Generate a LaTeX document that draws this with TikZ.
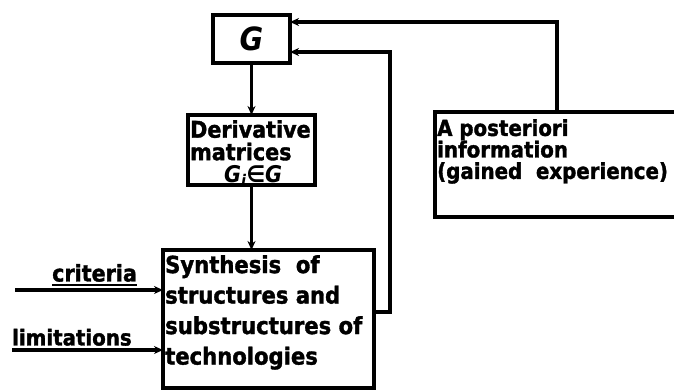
\documentclass[tikz,border=0pt]{standalone}
\usepackage{fontspec}
\setmainfont{DejaVu Sans Condensed}[BoldFeatures={FakeBold=1.5}]
\usetikzlibrary{arrows.meta,calc}
\begin{document}
\begin{tikzpicture}[x=1pt,y=-1pt,
  box/.style={draw, line width=3.2pt, inner sep=0pt, outer sep=0pt, anchor=north west},
  txt/.style={inner sep=0pt, anchor=north west, align=left, font=\bfseries},
  conn/.style={line width=3.2pt, -{Stealth[length=9pt,width=8pt]}}]
\useasboundingbox (0,0) rectangle (674,391);
% boxes
\node[box, minimum width=77pt, minimum height=48pt, anchor=center,
      font=\fontsize{32}{32}\selectfont\bfseries\itshape] (g) at (251.5,39) {G};
\node[box, minimum width=127pt, minimum height=70pt] (deriv) at (188,115) {};
\node[txt, font=\fontsize{23}{22.5}\selectfont\bfseries] (dtext) at ([xshift=2pt,yshift=-5pt]deriv.north west)
  {Derivative\\matrices\\\hspace*{34pt}{\itshape G\textsubscript{i}∈G}};
\node[box, minimum width=211pt, minimum height=138pt] (synth) at (163,250) {};
\node[txt, font=\fontsize{23.5}{30.5}\selectfont\bfseries] (stext) at ([xshift=2pt,yshift=-5pt]synth.north west)
  {Synthesis\ \ of\\structures and\\substructures of\\technologies};
\node[box, minimum width=250pt, minimum height=105pt] (ap) at (435,112) {};
\node[txt, font=\fontsize{22}{21.5}\selectfont\bfseries] (aptext) at ([xshift=2pt,yshift=-7pt]ap.north west)
  {A posteriori\\information\\(gained\ \ experience)};
% helper coordinates
\coordinate (fb) at (390,312);
\coordinate (apx) at (557,112);
\coordinate (c0) at (15,290);
\coordinate (l0) at (12,350);
% connectors
\draw[conn] (g.south) -- (deriv.north);
\draw[conn] (deriv.south) -- (deriv.south |- synth.north);
\draw[conn] (synth.east |- fb) -- (fb) |- ([yshift=-13pt]g.east);
\draw[conn] (apx) |- ([yshift=17pt]g.east);
\draw[conn] (c0) -- (c0 -| synth.west);
\draw[conn] (l0) -- (l0 -| synth.west);
% input labels
\node[inner sep=0pt, anchor=south west, font=\fontsize{23}{23}\selectfont\bfseries] (crit) at (52,282) {criteria};
\draw[line width=2.8pt] ([yshift=-3pt]crit.south west) -- ([yshift=-3pt]crit.south east);
\node[inner sep=0pt, anchor=south west, font=\fontsize{22}{22}\selectfont\bfseries] (lim) at (12,346) {limitations};
\end{tikzpicture}
\end{document}
